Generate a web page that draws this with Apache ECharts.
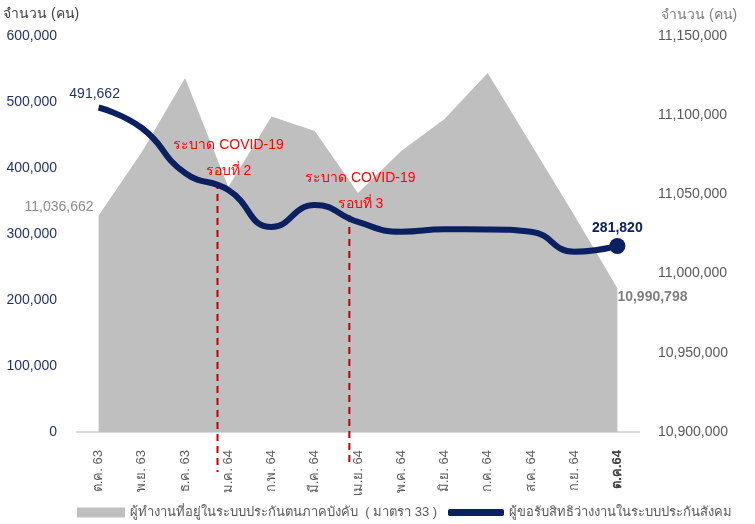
<!DOCTYPE html>
<html><head><meta charset="utf-8">
<script src="https://cdn.jsdelivr.net/npm/echarts@6/dist/echarts.min.js"></script>
<style>html,body{margin:0;padding:0;background:#fff}#c{width:755px;height:524px}</style>
</head><body><div id="c"></div>
<script>
const categories = ['ต.ค. 63','พ.ย. 63','ธ.ค. 63','ม.ค. 64','ก.พ. 64','มี.ค. 64','เม.ย. 64','พ.ค. 64','มิ.ย. 64','ก.ค. 64','ส.ค. 64','ก.ย. 64','ต.ค.64'];
const insuredWorkers = [11036662, 11076800, 11123500, 11054700, 11099200, 11090000, 11050900, 11077400, 11097600, 11126600, 11081800, 11037000, 10990798];
const unemploymentClaims = [491662, 460600, 392400, 366700, 310600, 344000, 318200, 303500, 307100, 307000, 303500, 273200, 281820];
const leftMin = 0, leftMax = 600000, leftInterval = 100000;
const rightMin = 10900000, rightMax = 11150000, rightInterval = 50000;
const covidWaveX = [2.75, 5.8];
const covidWaveTop = [378800, 328800];
const covidWaveBottom = [-60600, -47000];
const covidWaveLabels = ['ระบาด COVID-19\nรอบที่ 2', 'ระบาด COVID-19\nรอบที่ 3'];
const seriesNames = ['ผู้ทำงานที่อยู่ในระบบประกันตนภาคบังคับ  ( มาตรา 33 )', 'ผู้ขอรับสิทธิว่างงานในระบบประกันสังคม'];
const axisName = 'จำนวน (คน)';

const FONT = '"Liberation Sans", "Noto Sans", sans-serif';
const NAVY = '#0a2060';
const last = categories.length - 1;
const fmt = v => v.toLocaleString('en-US');

const chart = echarts.init(document.getElementById('c'), null, {renderer: 'canvas'});
chart.setOption({
  animation: false,
  textStyle: {fontFamily: FONT},
  title: {text: axisName, left: 3, top: 7, padding: 0,
    textStyle: {color: '#404040', fontSize: 14, fontWeight: 'normal', fontFamily: FONT}},
  grid: {left: 77, right: 116, top: 36, bottom: 92, containLabel: false},
  legend: [
    {data: [seriesNames[0]], left: 77, top: 506, padding: 0, itemWidth: 48, itemHeight: 10, itemGap: 5, icon: 'rect',
     textStyle: {color: '#595959', fontSize: 13, fontFamily: FONT}},
    {data: [seriesNames[1]], left: 448, top: 506, padding: 0, itemWidth: 56, itemHeight: 7, icon: 'roundRect',
     textStyle: {color: '#595959', fontSize: 13, fontFamily: FONT}}
  ],
  xAxis: [
    {type: 'category', data: categories, boundaryGap: true,
     axisLine: {lineStyle: {color: '#d9d9d9', width: 2}},
     axisTick: {show: false},
     axisLabel: {rotate: 90, margin: 18, color: '#595959', fontSize: 13, fontFamily: FONT,
       formatter: (v, i) => i === last ? '{b|' + v + '}' : v,
       rich: {b: {fontWeight: 'bold', color: '#404040', fontSize: 13, fontFamily: FONT}}}},
    {type: 'value', min: -0.5, max: categories.length - 0.5, show: false}
  ],
  yAxis: [
    {type: 'value', min: leftMin, max: leftMax, interval: leftInterval,
     axisLine: {show: false}, axisTick: {show: false}, splitLine: {show: false},
     axisLabel: {margin: 20, color: '#1f2f5f', fontSize: 14, fontFamily: FONT, formatter: fmt}},
    {type: 'value', min: rightMin, max: rightMax, interval: rightInterval,
     name: axisName, nameLocation: 'end', nameGap: 21,
     nameTextStyle: {align: 'left', verticalAlign: 'middle', padding: [0, 0, 0, 22], color: '#7f7f7f', fontSize: 14, fontFamily: FONT},
     axisLine: {show: false}, axisTick: {show: false}, splitLine: {show: false},
     axisLabel: {margin: 19, color: '#595959', fontSize: 14, fontFamily: FONT, formatter: fmt}}
  ],
  series: [
    {name: seriesNames[0], type: 'line', yAxisIndex: 1, xAxisIndex: 0, z: 2,
     color: '#bfbfbf', smooth: false, symbol: 'circle', symbolSize: 0, showSymbol: true,
     lineStyle: {width: 0}, areaStyle: {color: '#bfbfbf', opacity: 1, origin: 'start'},
     itemStyle: {color: '#bfbfbf'},
     data: insuredWorkers.map((v, i) => {
       if (i === 0) return {value: v, label: {show: true, position: 'left', distance: 5, offset: [0, -8], color: '#8c8c8c', fontSize: 14, fontFamily: FONT, formatter: p => fmt(p.value)}};
       if (i === last) return {value: v, label: {show: true, position: 'right', distance: 0, offset: [0, 9], color: '#7f7f7f', fontWeight: 'bold', fontSize: 14, fontFamily: FONT, formatter: p => fmt(p.value)}};
       return v;
     })},
    {name: 'covid', type: 'custom', xAxisIndex: 1, yAxisIndex: 0, clip: false, silent: true, z: 5,
     data: covidWaveX.map((x, i) => [x, covidWaveTop[i], covidWaveBottom[i]]),
     encode: {x: 0, y: 1},
     renderItem: (params, api) => {
       const x = api.value(0);
       const top = api.coord([x, api.value(1)]);
       const bot = api.coord([x, api.value(2)]);
       return {type: 'group', children: [
         {type: 'line', shape: {x1: top[0], y1: top[1], x2: bot[0], y2: bot[1]},
          style: {stroke: '#c00000', lineWidth: 2, lineDash: [7, 5]}},
         {type: 'text', x: top[0] + 11, y: top[1] + 2,
          style: {text: covidWaveLabels[params.dataIndex], fill: '#ff0000', fontSize: 14, fontFamily: FONT,
                  align: 'center', verticalAlign: 'bottom', lineHeight: 26}}
       ]};
     }},
    {name: seriesNames[1], type: 'line', yAxisIndex: 0, xAxisIndex: 0, z: 8,
     color: NAVY, smooth: true, symbol: 'circle', showSymbol: true,
     symbolSize: (v, p) => p.dataIndex === last ? 16 : 0,
     lineStyle: {width: 6, color: NAVY}, itemStyle: {color: NAVY},
     data: unemploymentClaims.map((v, i) => {
       if (i === 0) return {value: v, label: {show: true, position: 'top', distance: 6, offset: [-4, 0], color: '#1f2f5f', fontSize: 14, fontFamily: FONT, formatter: p => fmt(p.value)}};
       if (i === last) return {value: v, label: {show: true, position: 'top', distance: 3, color: NAVY, fontWeight: 'bold', fontSize: 14, fontFamily: FONT, formatter: p => fmt(p.value)}};
       return v;
     })}
  ]
});
</script></body></html>
